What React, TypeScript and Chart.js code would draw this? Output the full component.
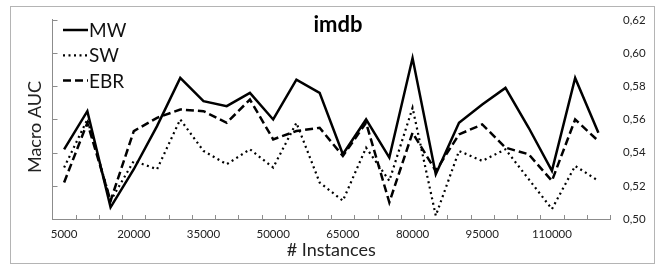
import React, { useEffect, useRef } from 'react';
import { Chart, registerables } from 'chart.js';

Chart.register(...registerables);

const categories = [
  '5000', '10000', '15000', '20000', '25000', '30000', '35000', '40000',
  '45000', '50000', '55000', '60000', '65000', '70000', '75000', '80000',
  '85000', '90000', '95000', '100000', '105000', '110000', '115000', '120000',
];

const mwValues = [
  0.542, 0.565, 0.507, 0.530, 0.556, 0.585, 0.571, 0.568, 0.576, 0.560, 0.584, 0.576,
  0.539, 0.560, 0.537, 0.597, 0.527, 0.558, 0.569, 0.579, 0.555, 0.529, 0.585, 0.552,
];

const swValues = [
  0.531, 0.560, 0.511, 0.535, 0.530, 0.560, 0.541, 0.533, 0.542, 0.531, 0.558, 0.522,
  0.511, 0.543, 0.523, 0.567, 0.502, 0.541, 0.535, 0.542, 0.524, 0.506, 0.532, 0.523,
];

const ebrValues = [
  0.522, 0.558, 0.511, 0.553, 0.561, 0.566, 0.565, 0.558, 0.572, 0.548, 0.553, 0.555,
  0.538, 0.558, 0.510, 0.552, 0.529, 0.551, 0.557, 0.543, 0.539, 0.523, 0.560, 0.547,
];

const seriesNames = ['MW', 'SW', 'EBR'];
const chartTitle = 'imdb';
const xAxisTitle = '# Instances';
const yAxisTitle = 'Macro AUC';
const yMin = 0.5;
const yMax = 0.62;
const yStep = 0.02;
const labelEvery = 3;

const FONT = 'Lato, "Open Sans", sans-serif';
const AXIS_GRAY = '#8c8c8c';

const decorPlugin = {
  id: 'decor',
  beforeDraw(chart: any) {
    const ctx = chart.ctx;
    ctx.save();
    ctx.fillStyle = '#ffffff';
    ctx.fillRect(0, 0, chart.width, chart.height);
    ctx.strokeStyle = '#b4b4b4';
    ctx.lineWidth = 1;
    ctx.strokeRect(10.5, 6.5, 644, 257);
    ctx.restore();
  },
  afterDraw(chart: any) {
    const ctx = chart.ctx;
    const area = chart.chartArea;
    const xs = chart.scales.x;
    const yl = chart.scales.yL;
    ctx.save();
    ctx.strokeStyle = AXIS_GRAY;
    ctx.lineWidth = 1;
    const step = xs.getPixelForValue(1) - xs.getPixelForValue(0);
    ctx.beginPath();
    for (let i = 0; i <= categories.length; i++) {
      const px = Math.round(xs.getPixelForValue(0) - step / 2 + i * step) + 0.5;
      ctx.moveTo(px, area.bottom);
      ctx.lineTo(px, area.bottom - 4);
    }
    yl.ticks.forEach((t: any) => {
      const py = Math.round(yl.getPixelForValue(t.value)) + 0.5;
      ctx.moveTo(area.left, py);
      ctx.lineTo(area.left + 5, py);
    });
    ctx.stroke();

    ctx.fillStyle = '#000';
    ctx.font = `bold 22px ${FONT}`;
    ctx.textAlign = 'center';
    ctx.textBaseline = 'middle';
    ctx.fillText(chartTitle, 338, 25);

    ctx.save();
    ctx.translate(35, 127);
    ctx.rotate(-Math.PI / 2);
    ctx.font = `18px ${FONT}`;
    ctx.fillStyle = '#222';
    ctx.fillText(yAxisTitle, 0, 0);
    ctx.restore();

    const ds = chart.data.datasets;
    ctx.font = `19px ${FONT}`;
    ctx.textAlign = 'left';
    ctx.textBaseline = 'middle';
    ds.forEach((d: any, i: number) => {
      const cy = 30 + i * 25.3;
      ctx.strokeStyle = d.borderColor;
      ctx.lineWidth = d.borderWidth;
      ctx.setLineDash(d.borderDash || []);
      ctx.beginPath();
      ctx.moveTo(63, cy);
      ctx.lineTo(88, cy);
      ctx.stroke();
      ctx.setLineDash([]);
      ctx.fillStyle = '#111';
      ctx.fillText(d.label, 89, cy + 1);
    });
    ctx.restore();
  },
};

export default function App() {
  const canvasRef = useRef<HTMLCanvasElement | null>(null);

  useEffect(() => {
    if (!canvasRef.current) return;
    const chart = new Chart(canvasRef.current, {
      type: 'line',
      data: {
        labels: categories,
        datasets: [
          {
            label: seriesNames[0],
            data: mwValues,
            borderColor: '#000',
            borderWidth: 2.5,
            pointRadius: 0,
            tension: 0,
            yAxisID: 'y',
          },
          {
            label: seriesNames[1],
            data: swValues,
            borderColor: '#000',
            borderWidth: 2.2,
            borderDash: [2, 3.5],
            pointRadius: 0,
            tension: 0,
            yAxisID: 'y',
          },
          {
            label: seriesNames[2],
            data: ebrValues,
            borderColor: '#000',
            borderWidth: 2.5,
            borderDash: [8, 4],
            pointRadius: 0,
            tension: 0,
            yAxisID: 'y',
          },
        ],
      },
      options: {
        responsive: false,
        animation: false,
        events: [],
        layout: { padding: { top: 15, left: 0, right: 0, bottom: 0 } },
        plugins: {
          legend: { display: false },
          title: { display: false },
          tooltip: { enabled: false },
        },
        scales: {
          x: {
            type: 'category',
            offset: true,
            grid: { display: false, drawTicks: false },
            border: { display: true, color: AXIS_GRAY, width: 1 },
            ticks: {
              autoSkip: false,
              maxRotation: 0,
              minRotation: 0,
              padding: 8,
              color: '#222',
              font: { family: FONT, size: 11.5 },
              callback: (_v: any, i: number) => (i % labelEvery === 0 ? categories[i] : ''),
            },
            title: {
              display: true,
              text: xAxisTitle,
              color: '#222',
              font: { family: FONT, size: 18 },
              padding: { top: 0, bottom: 4 },
            },
            afterFit: (s: any) => {
              s.height = 46;
            },
          },
          y: {
            type: 'linear',
            position: 'right',
            min: yMin,
            max: yMax,
            grid: { display: false, drawTicks: false },
            border: { display: false },
            ticks: {
              stepSize: yStep,
              padding: 13,
              color: '#222',
              font: { family: FONT, size: 11.5 },
              callback: (v: any) => Number(v).toFixed(2).replace('.', ','),
            },
            afterFit: (s: any) => {
              s.width = 45;
            },
          },
          yL: {
            type: 'linear',
            position: 'left',
            min: yMin,
            max: yMax,
            grid: { display: false, drawTicks: false },
            border: { display: true, color: AXIS_GRAY, width: 1 },
            ticks: { display: false, stepSize: yStep },
            afterFit: (s: any) => {
              s.width = 52.5;
            },
          },
        },
      },
      plugins: [decorPlugin],
    } as any);
    return () => chart.destroy();
  }, []);

  return (
    <div style={{ position: 'fixed', left: 0, top: 0, width: 655, height: 265, background: '#fff' }}>
      <canvas ref={canvasRef} width={655} height={265} style={{ display: 'block' }} />
    </div>
  );
}
